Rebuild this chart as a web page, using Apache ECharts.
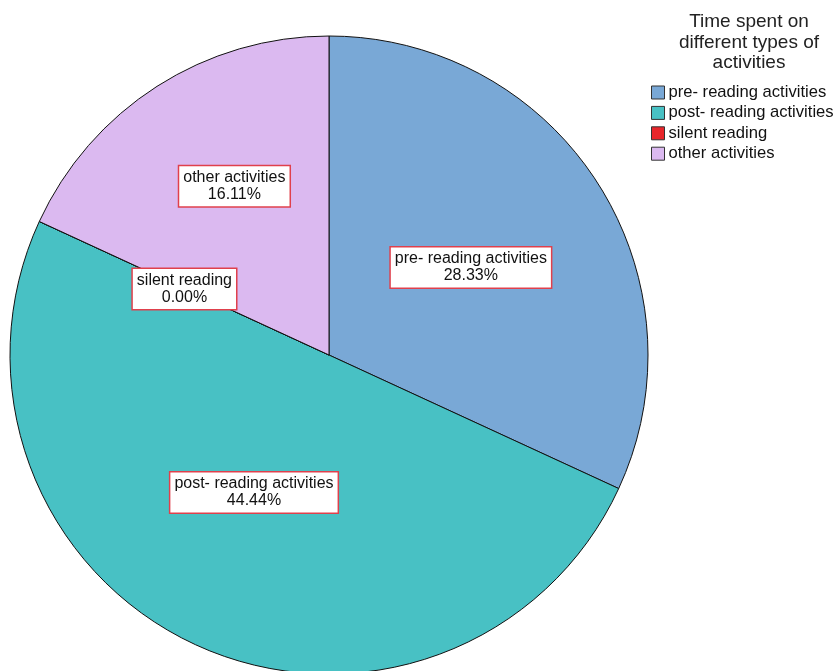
<!DOCTYPE html>
<html>
<head>
<meta charset="utf-8">
<script src="https://cdn.jsdelivr.net/npm/echarts@6/dist/echarts.min.js"></script>
<style>
  html, body { margin: 0; padding: 0; background: #fff; }
  #chart { width: 835px; height: 671px; }
</style>
</head>
<body>
<div id="chart"></div>
<script>
// 图表数据
const categories = ['pre- reading activities', 'post- reading activities', 'silent reading', 'other activities'];
const values = [28.33, 44.44, 0.00, 16.11];
const colors = ['#79a8d6', '#48c1c4', '#e8262b', '#dbb9f0'];

const chart = echarts.init(document.getElementById('chart'));

const font = '"Liberation Sans", Arial, sans-serif';

const option = {
  animation: false,
  title: {
    text: 'Time spent on\ndifferent types of\nactivities',
    left: 744,
    top: 7,
    textAlign: 'center',
    textStyle: { fontFamily: font, fontSize: 19, fontWeight: 'normal', color: '#222', lineHeight: 20.5 }
  },
  legend: {
    orient: 'vertical',
    left: 646,
    top: 79,
    itemWidth: 13,
    itemHeight: 13,
    itemGap: 3.4,
    icon: 'rect',
    itemStyle: { borderColor: '#333', borderWidth: 1 },
    textStyle: { fontFamily: font, fontSize: 16.6, lineHeight: 17, color: '#111', padding: [0, 0, 0, -1] },
    data: categories
  },
  series: [{
    type: 'pie',
    center: [329, 355],
    radius: 319,
    startAngle: 90,
    clockwise: true,
    avoidLabelOverlap: false,
    itemStyle: { borderColor: '#111', borderWidth: 1 },
    emphasis: { disabled: true },
    label: {
      show: true,
      position: 'inside',
      formatter: p => p.name + '\n' + p.value.toFixed(2) + '%',
      fontFamily: font,
      fontSize: 16,
      lineHeight: 17,
      color: '#111',
      backgroundColor: '#fff',
      borderColor: '#e0404c',
      borderWidth: 1.5,
      padding: [4, 4, 2, 4]
    },
    // 标签微调
    labelLayout: p => {
      if (p.dataIndex === 3) return { dx: -7, dy: -32 };
      if (p.dataIndex === 1) return { dx: -7, dy: -10 };
      if (p.dataIndex === 0) return { dx: 5, dy: 0 };
      if (p.dataIndex === 2) return { dx: 3, dy: 2 };
      return {};
    },
    data: categories.map((name, i) => ({
      name: name,
      value: values[i],
      itemStyle: { color: colors[i] }
    }))
  }]
};

chart.setOption(option);
</script>
</body>
</html>
